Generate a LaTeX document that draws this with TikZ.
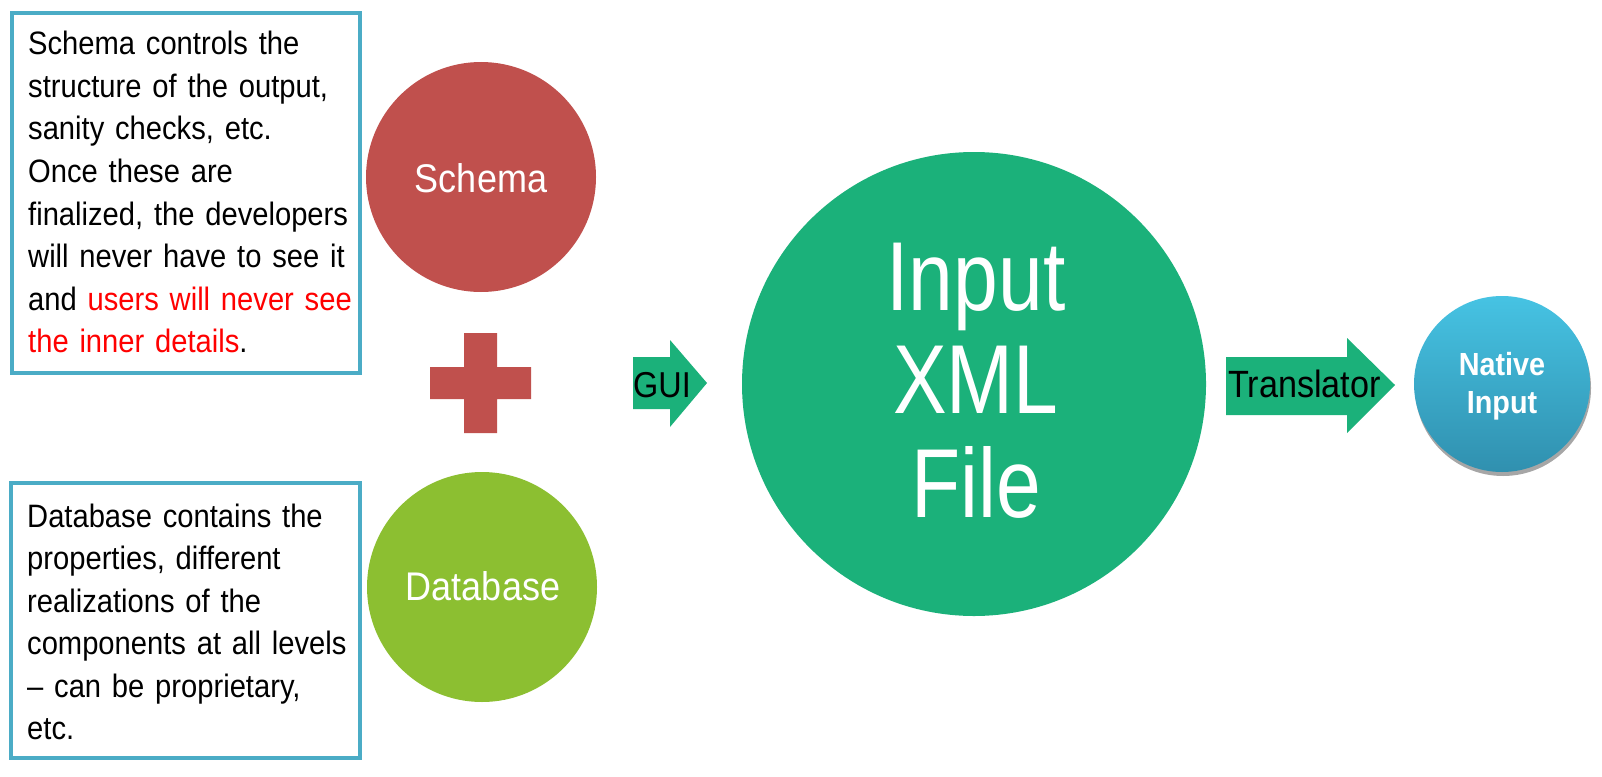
\documentclass[tikz,border=0pt]{standalone}
\usepackage{fontspec}
\setmainfont[FakeStretch=0.9]{Liberation Sans}
\newfontfamily\bigfont[FakeStretch=0.82]{Liberation Sans}
\usetikzlibrary{shadows}
\definecolor{boxblue}{HTML}{4BACC6}
\definecolor{schemared}{HTML}{C0504D}
\definecolor{dbgreen}{HTML}{8CBF31}
\definecolor{xmlgreen}{RGB}{27,177,122}
\definecolor{natlight}{HTML}{46C3E3}
\definecolor{natdark}{HTML}{3090AF}
\definecolor{hired}{HTML}{FF0000}
\newcommand{\infofont}{\fontsize{32.4}{42.5}\selectfont\spaceskip=7.5pt plus 3pt minus 1.5pt\relax}
\tikzset{
  infobox/.style={draw=boxblue, line width=4pt, fill=white},
  infotext/.style={anchor=base west, inner sep=0pt, text width=335pt, align=left,
    font=\infofont, text=black},
  bubble/.style={circle, inner sep=0pt, minimum size=#1},
  bubbletext/.style={anchor=base, inner sep=0pt, text=white, font=\fontsize{40}{40}\selectfont},
  blockarrow/.style={fill=xmlgreen, draw=none},
  arrowtext/.style={anchor=base west, inner sep=0pt, text=black, font=\fontsize{38}{38}\selectfont}
}
\begin{document}
\begin{tikzpicture}[x=1pt,y=-1pt]
\useasboundingbox (0,0) rectangle (1602,776);
\fill[white] (0,0) rectangle (1602,776);

% text boxes
\draw[infobox] (12,13) rectangle (360,373);
\node[infotext] (schematext) at (28,55) {Schema controls the\\structure of the output,\\sanity checks, etc.\\Once these are\\finalized, the developers\\will never have to see it\\and \textcolor{hired}{users will never see}\\\textcolor{hired}{the inner details}.};

\draw[infobox] (11,483) rectangle (360,758);
\node[infotext] (dbtext) at (27,527) {Database contains the\\properties, different\\realizations of the\\components at all levels\\– can be proprietary,\\etc.};

% schema and database circles
\node[bubble=230pt, fill=schemared] (schema) at (481,177) {};
\node[bubbletext] (schemalabel) at (481,192) {Schema};
\node[bubble=230pt, fill=dbgreen] (database) at (482,587) {};
\node[bubbletext] (dblabel) at (483,600) {Database};

% plus sign
\fill[schemared] (464,333) -- (497,333) -- (497,367) -- (531,367) -- (531,399) -- (497,399)
  -- (497,433) -- (464,433) -- (464,399) -- (430,399) -- (430,367) -- (464,367) -- cycle;

% GUI arrow
\fill[blockarrow] (633,357) -- (670,357) -- (670,340) -- (707,383) -- (670,427) -- (670,409) -- (633,409) -- cycle;
\node[arrowtext, font=\fontsize{36}{36}\selectfont] (gui) at (633,397) {GUI};

% Input XML file circle
\node[bubble=464pt, fill=xmlgreen] (xml) at (974,384) {};
\node[anchor=base, inner sep=0pt, text=white, text width=380pt, align=center,
  font=\bigfont\fontsize{98}{103.5}\selectfont] (xmllabel) at (976,310) {Input\\XML\\File};

% Translator arrow
\fill[blockarrow] (1226,357) -- (1347,357) -- (1347,338) -- (1395,385) -- (1347,433) -- (1347,415) -- (1226,415) -- cycle;
\node[arrowtext] (translator) at (1228,397) {Translator};

% Native input circle
\node[bubble=176pt, top color=natlight, bottom color=natdark,
  drop shadow={shadow xshift=1pt, shadow yshift=-4pt, opacity=0.35, fill=black}] (native) at (1502,384) {};
\node[anchor=base, inner sep=0pt, text=white, text width=160pt, align=center,
  font=\bfseries\fontsize{32}{38}\selectfont] (nativelabel) at (1502,375) {Native\\Input};
\end{tikzpicture}
\end{document}
